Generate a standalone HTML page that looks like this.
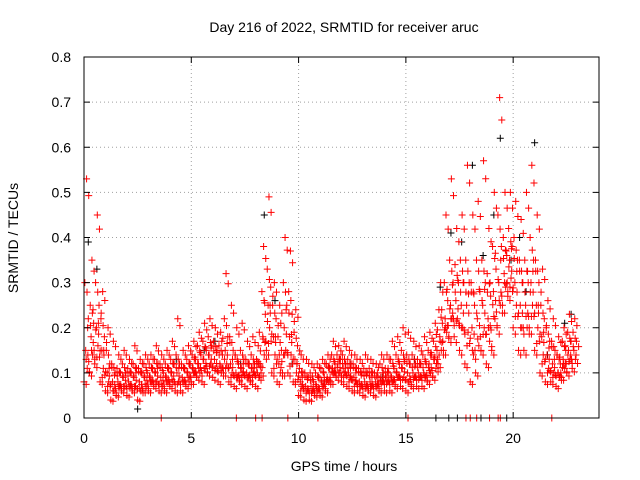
<!DOCTYPE html>
<html><head><meta charset="utf-8">
<style>
body{margin:0;background:#fff;}
svg{display:block;font-family:"Liberation Sans",sans-serif;}
</style></head>
<body>
<svg id="chart" width="640" height="480" viewBox="0 0 640 480" xmlns="http://www.w3.org/2000/svg">
<rect width="640" height="480" fill="#fff"/>
<text x="344" y="32" font-size="14" text-anchor="middle">Day 216 of 2022, SRMTID for receiver aruc</text>
<text x="344" y="471" font-size="14" text-anchor="middle">GPS time / hours</text>
<text transform="translate(18,238) rotate(-90)" font-size="14" text-anchor="middle">SRMTID / TECUs</text>
<g id="grid"></g>
<g id="marks"></g>
<rect x="84" y="57" width="515" height="361" fill="none" stroke="#000" stroke-width="1"/>
<g id="ticks"></g>
</svg>
<script>
const xTicks = [0, 5, 10, 15, 20];
const yTicks = [0, 0.1, 0.2, 0.3, 0.4, 0.5, 0.6, 0.7, 0.8];
const yTickLabels = ["0", "0.1", "0.2", "0.3", "0.4", "0.5", "0.6", "0.7", "0.8"];
const times = [0,0.25,0.5,0.75,1,1.25,1.5,1.75,2,2.25,2.5,2.75,3,3.25,3.5,3.75,4,4.25,4.5,4.75,5,5.25,5.5,5.75,6,6.25,6.5,6.75,7,7.25,7.5,7.75,8,8.25,8.5,8.75,9,9.25,9.5,9.75,10,10.25,10.5,10.75,11,11.25,11.5,11.75,12,12.25,12.5,12.75,13,13.25,13.5,13.75,14,14.25,14.5,14.75,15,15.25,15.5,15.75,16,16.25,16.5,16.75,17,17.25,17.5,17.75,18,18.25,18.5,18.75,19,19.25,19.5,19.75,20,20.25,20.5,20.75,21,21.25,21.5,21.75,22,22.25,22.5,22.75];
const redLow = [.08,.10,.12,.08,.06,.04,.05,.06,.05,.06,.04,.06,.06,.07,.06,.06,.07,.06,.06,.07,.08,.09,.08,.10,.09,.08,.10,.08,.07,.08,.07,.08,.07,.10,.15,.10,.08,.10,.10,.08,.05,.04,.04,.05,.05,.06,.08,.09,.08,.07,.06,.06,.05,.06,.05,.06,.06,.06,.07,.07,.06,.07,.07,.07,.08,.09,.12,.15,.18,.18,.15,.12,.08,.10,.15,.12,.15,.20,.25,.28,.20,.15,.15,.20,.15,.10,.08,.08,.07,.09,.10,.11];
const redQ = [.11,.14,.16,.11,.08,.06,.07,.07,.07,.07,.06,.07,.08,.08,.07,.08,.08,.08,.08,.08,.10,.10,.11,.12,.11,.10,.12,.10,.09,.10,.09,.10,.09,.14,.20,.14,.10,.15,.14,.10,.07,.06,.06,.06,.07,.08,.10,.10,.10,.09,.08,.07,.07,.07,.07,.08,.08,.08,.09,.09,.08,.09,.09,.09,.10,.11,.15,.19,.22,.22,.20,.19,.14,.16,.20,.17,.22,.25,.29,.31,.25,.20,.20,.25,.20,.14,.11,.10,.09,.11,.13,.13];
const redMid = [.15,.18,.20,.15,.10,.08,.08,.09,.08,.09,.08,.09,.09,.10,.09,.09,.10,.10,.09,.10,.11,.12,.13,.14,.13,.12,.15,.12,.10,.11,.10,.11,.10,.18,.25,.18,.12,.20,.18,.13,.08,.07,.07,.07,.08,.09,.11,.12,.11,.10,.09,.08,.08,.08,.08,.09,.09,.09,.10,.11,.10,.10,.10,.10,.12,.13,.18,.22,.25,.26,.25,.25,.20,.22,.25,.22,.28,.30,.32,.35,.30,.25,.25,.30,.25,.18,.14,.12,.10,.13,.15,.15];
const redR = [.22,.21,.25,.18,.12,.10,.10,.10,.10,.11,.10,.10,.11,.12,.10,.11,.12,.12,.11,.12,.13,.14,.15,.16,.15,.14,.18,.15,.12,.13,.12,.12,.12,.23,.29,.22,.15,.25,.23,.16,.10,.09,.08,.09,.09,.11,.12,.13,.12,.12,.11,.10,.10,.10,.09,.10,.10,.11,.12,.13,.12,.12,.12,.12,.14,.15,.21,.26,.30,.30,.30,.30,.25,.28,.30,.27,.33,.38,.36,.38,.35,.30,.30,.35,.30,.22,.17,.15,.12,.15,.17,.17];
const redHigh = [.30,.25,.30,.22,.15,.12,.11,.12,.11,.12,.11,.12,.12,.13,.12,.12,.13,.14,.12,.13,.14,.16,.17,.18,.17,.16,.22,.18,.14,.15,.13,.14,.13,.28,.33,.25,.18,.30,.28,.19,.11,.10,.10,.10,.11,.12,.14,.14,.14,.13,.12,.11,.11,.11,.10,.12,.11,.13,.14,.15,.14,.14,.13,.14,.15,.17,.24,.30,.35,.34,.35,.35,.30,.35,.35,.32,.38,.45,.40,.42,.40,.35,.35,.40,.35,.25,.20,.17,.14,.17,.19,.19];
const redTop = [.53,.35,.45,.28,.20,.17,.14,.15,.13,.16,.13,.14,.14,.16,.14,.15,.17,.22,.15,.16,.17,.19,.21,.22,.20,.19,.32,.25,.20,.21,.17,.18,.16,.38,.49,.30,.25,.40,.37,.24,.14,.13,.12,.12,.13,.14,.17,.16,.17,.15,.14,.13,.14,.13,.12,.14,.14,.17,.18,.20,.19,.17,.16,.18,.19,.21,.30,.45,.53,.42,.45,.56,.45,.48,.57,.42,.50,.71,.50,.50,.48,.44,.50,.56,.45,.33,.26,.22,.18,.20,.23,.22];
const blackTimes = [0.2,0.6,2.5,4.3,5.6,6.1,7.3,8.4,8.9,9.7,11.2,12.4,13.9,15.4,16.6,17.1,17.6,18.1,18.6,19.1,19.4,19.9,20.3,20.6,21.0,21.6,22.4,22.7];
const blackValues = [.39,.33,.02,.13,.15,.17,.12,.45,.26,.12,.08,.12,.09,.13,.29,.41,.39,.56,.36,.45,.62,.35,.40,.28,.61,.14,.21,.23];
const redZeroTimes = [3.6,7.1,8.0,8.3,9.5,10.9,15.1,17.8,18.0,18.3,18.9,19.3,19.4,21.8];
const blackZeroTimes = [16.4,17.0,17.4,18.5,19.7];

const X0=84,X1=599,Y0=418,Y1=57,XMAX=24,YMAX=0.8;
const xs = v => X0 + (X1-X0)*v/XMAX;
const ys = v => Y0 - (Y0-Y1)*v/YMAX;
const NS="http://www.w3.org/2000/svg";
const grid=document.getElementById('grid'), ticks=document.getElementById('ticks'), marks=document.getElementById('marks');
function mk(tag,attrs,parent){const e=document.createElementNS(NS,tag);for(const k in attrs)e.setAttribute(k,attrs[k]);parent.appendChild(e);return e;}

xTicks.forEach(t=>{
  const x=xs(t);
  if(t>0){const g=mk('line',{x1:x,x2:x,y1:Y0,y2:Y1,stroke:'#a0a0a0','stroke-dasharray':'1,3'},grid);
  
  }
  const a=mk('line',{x1:x,x2:x,y1:Y0,y2:Y0-6,stroke:'#000'},ticks);
  
  
  const b=mk('line',{x1:x,x2:x,y1:Y1,y2:Y1+6,stroke:'#000'},ticks);
  
  
  const l=mk('text',{x:x,y:443,'font-size':14,'text-anchor':'middle'},ticks);l.textContent=String(t);
  
  
});
yTicks.forEach((t,i)=>{
  const y=ys(t);
  if(t>0&&t<YMAX){const g=mk('line',{x1:X0,x2:X1,y1:y,y2:y,stroke:'#a0a0a0','stroke-dasharray':'1,3'},grid);
  
  }
  const a=mk('line',{x1:X0,x2:X0+6,y1:y,y2:y,stroke:'#000'},ticks);
  
  
  const b=mk('line',{x1:X1,x2:X1-6,y1:y,y2:y,stroke:'#000'},ticks);
  
  
  const l=mk('text',{x:71,y:y+5,'font-size':14,'text-anchor':'end'},ticks);l.textContent=yTickLabels[i];
  
  
});
function plus(t,v,color,name){
  const x=xs(t),y=ys(v);
  const p=mk('path',{d:`M${x-3.5},${y}h7M${x},${y-3.5}v7`,stroke:color,'stroke-width':1,fill:'none'},marks);
  
  
}
blackTimes.forEach((t,i)=>plus(t,blackValues[i],'#000','black-point'));
blackZeroTimes.forEach(t=>plus(t,0,'#000','black-zero-point'));
const series=[redLow,redQ,redMid,redR,redHigh,redTop];
const offs=[0,0.15,0.08,0.2,0.04,0.12];
series.forEach((s,k)=>times.forEach((t,i)=>{
  plus(t+offs[k],s[i],'#f00','red-point');
  plus(t+offs[k]+0.1,s[i]*0.93,'#f00','red-point');
}));
times.forEach((t,i)=>{ if(i<times.length-1){
  plus(t+0.1,(redLow[i]+redMid[i+1])/2,'#f00','red-point');
  plus(t+0.17,(redMid[i]+redHigh[i+1])/2,'#f00','red-point');
  plus(t+0.22,(redQ[i]+redQ[i+1])/2,'#f00','red-point');
}});
redZeroTimes.forEach(t=>plus(t,0,'#f00','red-zero-point'));
</script>
</body></html>
